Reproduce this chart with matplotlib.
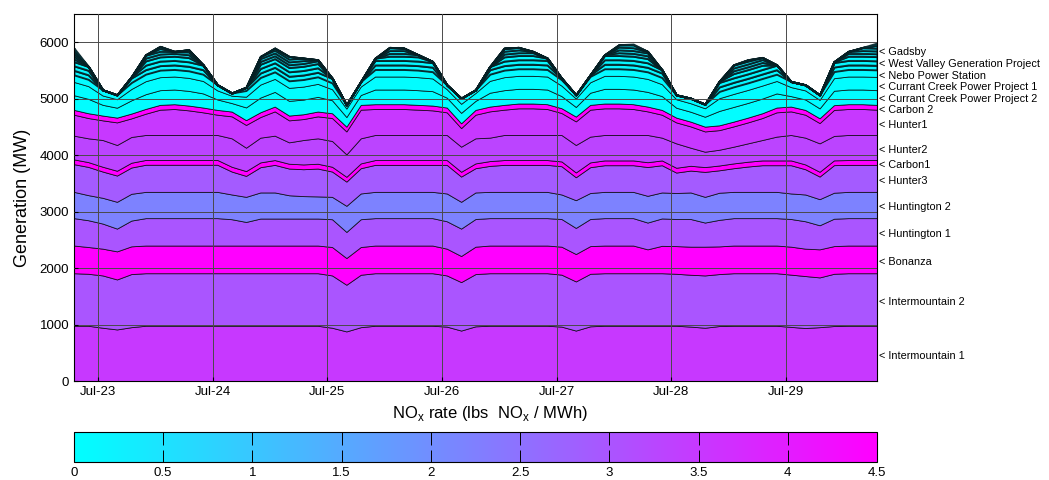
import matplotlib
matplotlib.use('Agg')
import matplotlib.pyplot as plt
import matplotlib.dates as mdates
import matplotlib.transforms as mtransforms
from matplotlib.cm import ScalarMappable
from matplotlib.colors import Normalize
import numpy as np
import pandas as pd

plt.rcParams['font.family'] = ['Liberation Sans', 'DejaVu Sans']
plt.rcParams['mathtext.fontset'] = 'custom'
plt.rcParams['mathtext.rm'] = 'Liberation Sans'

# 3-hourly generation (MW), Jul-22 19:00 .. Jul-29 19:00
times = pd.date_range('2008-07-22 19:00', periods=57, freq='3h')

intermountain_1 = [
    980, 980,
    945, 915, 955, 980, 980, 980, 980, 980,
    980, 980, 980, 980, 980, 980, 980, 980,
    945, 880, 955, 980, 980, 980, 980, 980,
    965, 895, 970, 980, 980, 980, 980, 980,
    965, 895, 970, 980, 980, 980, 980, 980,
    980, 965, 945, 975, 980, 980, 980, 980,
    960, 940, 955, 975, 980, 980, 980,
]
intermountain_2 = [
    930, 920,
    926, 885, 940, 930, 930, 930, 930, 930,
    930, 930, 930, 930, 930, 930, 930, 930,
    926, 826, 928, 930, 930, 930, 930, 930,
    906, 858, 925, 930, 930, 930, 930, 930,
    920, 870, 930, 930, 930, 930, 930, 930,
    920, 918, 926, 920, 930, 930, 930, 930,
    925, 920, 881, 925, 930, 930, 930,
]
bonanza = [
    490, 474,
    474, 497, 491, 490, 490, 490, 490, 490,
    490, 490, 490, 490, 490, 490, 490, 490,
    503, 473, 491, 490, 490, 490, 490, 490,
    474, 462, 485, 490, 490, 490, 490, 490,
    495, 485, 490, 490, 490, 490, 423, 485,
    490, 497, 509, 490, 490, 490, 490, 490,
    495, 485, 497, 490, 490, 490, 490,
]
huntington_1 = [
    485, 474,
    444, 403, 456, 485, 485, 485, 485, 485,
    485, 466, 418, 478, 478, 478, 478, 478,
    492, 462, 492, 485, 485, 485, 485, 485,
    485, 485, 490, 485, 485, 485, 485, 485,
    490, 462, 480, 485, 485, 485, 474, 485,
    480, 490, 427, 470, 485, 485, 485, 485,
    490, 485, 426, 485, 485, 485, 485,
]
huntington_2 = [
    465, 444,
    456, 474, 474, 465, 465, 465, 465, 465,
    465, 438, 444, 462, 462, 412, 397, 392,
    396, 462, 456, 465, 465, 465, 465, 465,
    492, 474, 470, 465, 465, 465, 465, 465,
    434, 491, 460, 465, 465, 465, 473, 460,
    460, 470, 455, 480, 465, 465, 465, 465,
    452, 474, 462, 460, 465, 465, 465,
]
hunter_3 = [
    490, 500,
    465, 465, 465, 480, 480, 480, 480, 480,
    480, 406, 371, 447, 488, 473, 476, 493,
    448, 429, 447, 478, 478, 478, 478, 478,
    506, 447, 429, 460, 478, 478, 478, 478,
    500, 406, 457, 472, 472, 472, 510, 482,
    362, 387, 442, 397, 419, 449, 472, 472,
    500, 447, 400, 488, 478, 478, 478,
]
carbon_1 = [
    85, 85,
    85, 85, 85, 85, 85, 85, 85, 85,
    85, 85, 85, 85, 85, 85, 85, 85,
    85, 85, 85, 85, 85, 85, 85, 85,
    85, 85, 85, 85, 85, 85, 85, 85,
    85, 85, 85, 85, 85, 85, 85, 85,
    85, 85, 85, 85, 85, 85, 85, 85,
    85, 85, 85, 85, 85, 85, 85,
]
hunter_2 = [
    420, 421,
    473, 456, 456, 442, 442, 442, 442, 442,
    442, 503, 414, 438, 432, 379, 432, 450,
    456, 397, 444, 444, 444, 444, 444, 444,
    444, 444, 444, 415, 444, 444, 444, 444,
    468, 486, 456, 450, 450, 450, 482, 403,
    432, 320, 272, 279, 296, 325, 361, 421,
    450, 474, 503, 432, 444, 444, 444,
]
hunter_1 = [
    371, 359,
    348, 400, 329, 377, 448, 460, 436, 401,
    359, 389, 403, 365, 430, 389, 371, 389,
    406, 406, 507, 460, 460, 460, 448, 436,
    401, 329, 418, 465, 448, 472, 472, 460,
    389, 418, 477, 472, 472, 460, 418, 406,
    371, 377, 359, 347, 359, 371, 389, 430,
    418, 406, 359, 460, 460, 460, 448,
]
carbon_2 = [
    85, 85,
    85, 85, 85, 85, 85, 85, 85, 85,
    85, 85, 85, 85, 85, 85, 85, 85,
    85, 85, 85, 85, 85, 85, 85, 85,
    85, 85, 85, 85, 85, 85, 85, 85,
    85, 85, 85, 85, 85, 85, 85, 85,
    85, 85, 85, 85, 85, 85, 85, 85,
    85, 85, 85, 85, 85, 85, 85,
]
currant_creek_2 = [
    260, 255,
    190, 175, 235, 260, 260, 260, 260, 250,
    185, 150, 225, 260, 260, 260, 260, 260,
    230, 170, 175, 260, 260, 260, 260, 255,
    175, 185, 160, 245, 260, 260, 260, 260,
    215, 170, 215, 260, 260, 260, 260, 245,
    175, 175, 175, 255, 260, 260, 260, 250,
    185, 185, 175, 255, 260, 260, 260,
]
currant_creek_1 = [
    235, 225,
    165, 150, 200, 230, 230, 230, 230, 220,
    160, 130, 190, 230, 230, 230, 230, 230,
    195, 150, 150, 230, 230, 230, 230, 225,
    150, 160, 140, 210, 230, 230, 230, 230,
    185, 150, 185, 230, 230, 230, 230, 210,
    150, 150, 150, 225, 230, 230, 230, 220,
    160, 160, 150, 222, 230, 230, 235,
]
nebo = [
    125, 120,
    100, 77, 115, 125, 125, 125, 125, 120,
    99, 48, 110, 125, 125, 125, 125, 125,
    112, 65, 89, 125, 125, 125, 125, 120,
    77, 99, 55, 118, 125, 125, 125, 125,
    105, 64, 105, 125, 125, 125, 125, 118,
    77, 89, 72, 120, 125, 125, 125, 120,
    99, 99, 89, 118, 125, 125, 125,
]
west_valley_1 = [
    80, 80,
    0, 0, 80, 80, 80, 80, 80, 80,
    0, 0, 55, 80, 80, 80, 80, 80,
    80, 0, 0, 80, 80, 80, 80, 80,
    0, 0, 0, 80, 80, 80, 80, 80,
    27, 0, 27, 80, 80, 80, 80, 80,
    0, 0, 0, 80, 80, 80, 80, 80,
    0, 0, 0, 80, 80, 80, 80,
]
west_valley_2 = [
    80, 80,
    0, 0, 21, 80, 80, 80, 80, 80,
    0, 0, 0, 80, 80, 80, 80, 80,
    4, 0, 0, 80, 80, 80, 80, 80,
    0, 0, 0, 57, 80, 80, 80, 80,
    0, 0, 0, 80, 80, 80, 80, 57,
    0, 0, 0, 80, 80, 80, 80, 80,
    0, 0, 0, 80, 80, 80, 80,
]
west_valley_3 = [
    75, 68,
    0, 0, 0, 75, 75, 75, 75, 7,
    0, 0, 0, 75, 75, 75, 75, 75,
    0, 0, 0, 41, 75, 75, 75, 21,
    0, 0, 0, 0, 75, 75, 75, 41,
    0, 0, 0, 75, 75, 75, 75, 0,
    0, 0, 0, 21, 75, 75, 75, 7,
    0, 0, 0, 14, 75, 75, 75,
]
gadsby_1 = [
    50, 0,
    0, 0, 0, 50, 50, 50, 50, 0,
    0, 0, 0, 50, 50, 50, 50, 50,
    0, 0, 0, 0, 50, 50, 38, 0,
    0, 0, 0, 0, 50, 50, 50, 0,
    0, 0, 0, 14, 50, 50, 50, 0,
    0, 0, 0, 0, 50, 50, 50, 0,
    0, 0, 0, 0, 50, 50, 50,
]
gadsby_2 = [
    50, 0,
    0, 0, 0, 50, 50, 35, 50, 0,
    0, 0, 0, 50, 50, 50, 50, 17,
    0, 0, 0, 0, 50, 50, 0, 0,
    0, 0, 0, 0, 50, 50, 23, 0,
    0, 0, 0, 0, 50, 50, 50, 0,
    0, 0, 0, 0, 50, 50, 50, 0,
    0, 0, 0, 0, 35, 50, 50,
]
gadsby_3 = [
    50, 0,
    0, 0, 0, 9, 50, 0, 38, 0,
    0, 0, 0, 38, 50, 50, 44, 0,
    0, 0, 0, 0, 50, 44, 0, 0,
    0, 0, 0, 0, 50, 44, 0, 0,
    0, 0, 0, 0, 50, 50, 27, 0,
    0, 0, 0, 0, 50, 50, 38, 0,
    0, 0, 0, 0, 0, 50, 50,
]
gadsby_4 = [
    50, 0,
    0, 0, 0, 0, 36, 0, 0, 0,
    0, 0, 0, 0, 36, 47, 0, 0,
    0, 0, 0, 0, 6, 0, 0, 0,
    0, 0, 0, 0, 6, 0, 0, 0,
    0, 0, 0, 0, 41, 50, 0, 0,
    0, 0, 0, 0, 6, 24, 0, 0,
    0, 0, 0, 0, 0, 6, 50,
]
gadsby_5 = [
    40, 0,
    0, 0, 0, 0, 0, 0, 0, 0,
    0, 0, 0, 0, 0, 0, 0, 0,
    0, 0, 0, 0, 0, 0, 0, 0,
    0, 0, 0, 0, 0, 0, 0, 0,
    0, 0, 0, 0, 0, 15, 0, 0,
    0, 0, 0, 0, 0, 0, 0, 0,
    0, 0, 0, 0, 0, 0, 40,
]

# plant name, unit series (bottom to top), NOx rate (lbs NOx / MWh)
plants = [
    ('Intermountain 1', [intermountain_1], 3.5),
    ('Intermountain 2', [intermountain_2], 3.0),
    ('Bonanza', [bonanza], 4.5),
    ('Huntington 1', [huntington_1], 3.0),
    ('Huntington 2', [huntington_2], 2.2),
    ('Hunter3', [hunter_3], 2.9),
    ('Carbon1', [carbon_1], 4.5),
    ('Hunter2', [hunter_2], 3.3),
    ('Hunter1', [hunter_1], 3.5),
    ('Carbon 2', [carbon_2], 4.5),
    ('Currant Creek Power Project 2', [currant_creek_2], 0.05),
    ('Currant Creek Power Project 1', [currant_creek_1], 0.05),
    ('Nebo Power Station', [nebo], 0.1),
    ('West Valley Generation Project', [west_valley_1, west_valley_2, west_valley_3], 0.15),
    ('Gadsby', [gadsby_1, gadsby_2, gadsby_3, gadsby_4, gadsby_5], 0.3),
]
peakers = ('West Valley Generation Project', 'Gadsby')

cbar_ticks = [0, 0.5, 1, 1.5, 2, 2.5, 3, 3.5, 4, 4.5]
cbar_ticklabels = ['0', '0.5', '1', '1.5', '2', '2.5', '3', '3.5', '4', '4.5']

cmap = plt.get_cmap('cool')
norm = Normalize(vmin=0, vmax=4.5)

series = []
colors = []
is_peaker = []
for name, units, rate in plants:
    for u in units:
        series.append(u)
        colors.append(cmap(norm(rate)))
        is_peaker.append(name in peakers)

fig = plt.figure(figsize=(10.49, 4.8), dpi=100)
ax = fig.add_axes([0.0705, 0.206, 0.7655, 0.765])

polys = ax.stackplot(times, *series, colors=colors,
                     edgecolor=(0, 0, 0, 0.8), linewidth=0.6)
# small peaking units get heavier outlines so the top band reads dark
for p, pk in zip(polys, is_peaker):
    if pk:
        p.set_linewidth(1.4)
        p.set_edgecolor((0.02, 0.12, 0.14, 0.9))

ax.set_xlim(times[0], times[-1])
ax.set_ylim(0, 6500)
ax.set_yticks([0, 1000, 2000, 3000, 4000, 5000, 6000])
ax.xaxis.set_major_locator(mdates.DayLocator())
ax.xaxis.set_major_formatter(mdates.DateFormatter('%b-%d'))
ax.grid(True, color='#4a4a4a', linewidth=0.7)
ax.set_axisbelow(False)
ax.tick_params(direction='in', length=3, labelsize=9.5)
ax.set_ylabel('Generation (MW)', fontsize=13, labelpad=6)

# plant labels at the right edge, centred on each plant's last band
totals = np.cumsum(np.array(series)[:, -1])
mids = []
k = 0
for name, units, rate in plants:
    top = totals[k + len(units) - 1]
    bottom = totals[k - 1] if k > 0 else 0
    mids.append((bottom + top) / 2)
    k += len(units)
pos = list(mids)
gap = 200
for _ in range(300):
    for j in range(1, len(pos)):
        d = pos[j] - pos[j - 1]
        if d < gap:
            pos[j] += (gap - d) / 2
            pos[j - 1] -= (gap - d) / 2
trans = mtransforms.blended_transform_factory(ax.transAxes, ax.transData)
for (name, units, rate), y in zip(plants, pos):
    ax.text(1.002, y - 40, '< ' + name, transform=trans, fontsize=7.8,
            va='center', ha='left', clip_on=False)

# NOx colour scale
cax = fig.add_axes([0.0705, 0.0375, 0.7655, 0.0625])
sm = ScalarMappable(norm=norm, cmap=cmap)
cb = fig.colorbar(sm, cax=cax, orientation='horizontal', ticks=cbar_ticks)
cb.ax.set_xticklabels(cbar_ticklabels)
cb.ax.tick_params(direction='in', length=9, top=True, labelsize=9.5, width=0.7)
cb.outline.set_linewidth(0.8)
fig.text(0.467, 0.138, r'NO$_\mathrm{x}$ rate (lbs  NO$_\mathrm{x}$ / MWh)',
         ha='center', va='center', fontsize=12)

fig.savefig('out.png', dpi=100)
